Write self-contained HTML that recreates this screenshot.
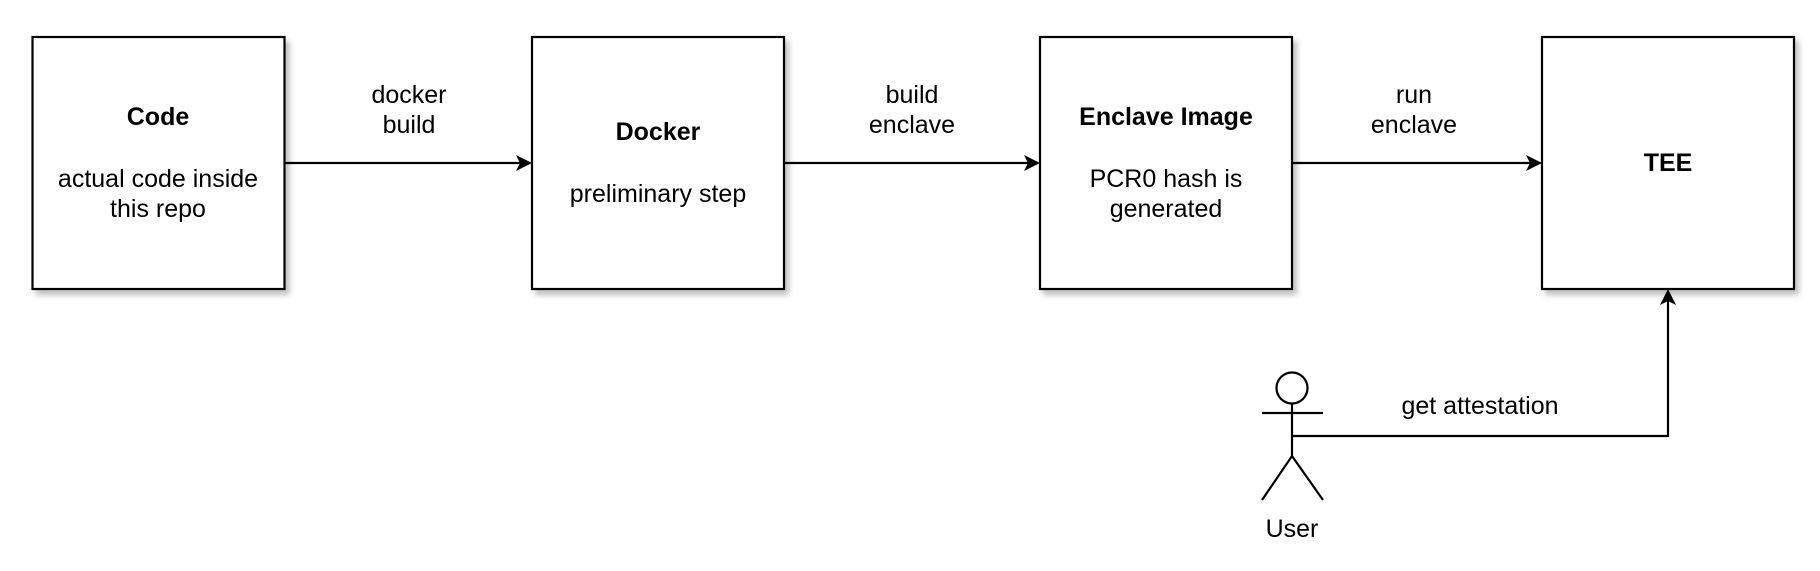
<!DOCTYPE html>
<html><head><meta charset="utf-8"><style>
html,body{margin:0;padding:0;background:#fff;}
svg text{font-family:"Liberation Sans",Arial,sans-serif;font-size:25px;fill:#000;}
</style></head><body>
<svg width="1820" height="566" viewBox="0 0 1820 566" xmlns="http://www.w3.org/2000/svg">
<defs>
<filter id="sh" x="-10%" y="-10%" width="130%" height="130%">
<feGaussianBlur in="SourceAlpha" stdDeviation="3"/>
<feOffset dx="4" dy="5"/>
<feComponentTransfer><feFuncA type="linear" slope="0.25"/></feComponentTransfer>
<feMerge><feMergeNode/><feMergeNode in="SourceGraphic"/></feMerge>
</filter>
</defs>
<g fill="#fff" stroke="#000" stroke-width="2.2" filter="url(#sh)">
<rect x="32.5" y="37" width="252" height="252"/>
<rect x="532" y="37" width="252" height="252"/>
<rect x="1040" y="37" width="252" height="252"/>
<rect x="1542" y="37" width="252" height="252"/>
</g>
<g stroke="#000" stroke-width="2.2" fill="none">
<line x1="284.5" y1="163" x2="522" y2="163"/>
<line x1="784" y1="163" x2="1030" y2="163"/>
<line x1="1292" y1="163" x2="1532" y2="163"/>
<polyline points="1292,436 1668,436 1668,299"/>
<circle cx="1292" cy="388" r="15.5"/>
<line x1="1262" y1="413" x2="1323" y2="413"/>
<line x1="1292" y1="403.5" x2="1292" y2="456"/>
<polyline points="1262,500 1292,456 1323,500"/>
</g>
<g fill="#000">
<path d="M532,163 L516,155 L520,163 L516,171 Z"/>
<path d="M1040,163 L1024,155 L1028,163 L1024,171 Z"/>
<path d="M1542,163 L1526,155 L1530,163 L1526,171 Z"/>
<path d="M1668,289 L1660,305 L1668,301 L1676,305 Z"/>
</g>
<g text-anchor="middle">
<text x="158" y="125" font-weight="bold">Code</text>
<text x="158" y="187">actual code inside</text>
<text x="158" y="217">this repo</text>
<text x="658" y="140" font-weight="bold">Docker</text>
<text x="658" y="202">preliminary step</text>
<text x="1166" y="125" font-weight="bold">Enclave Image</text>
<text x="1166" y="187">PCR0 hash is</text>
<text x="1166" y="217">generated</text>
<text x="1668" y="171" font-weight="bold">TEE</text>
<text x="409" y="103">docker</text>
<text x="409" y="133">build</text>
<text x="912" y="103">build</text>
<text x="912" y="133">enclave</text>
<text x="1414" y="103">run</text>
<text x="1414" y="133">enclave</text>
<text x="1480" y="414">get attestation</text>
<text x="1292" y="537">User</text>
</g>
</svg>
</body></html>
